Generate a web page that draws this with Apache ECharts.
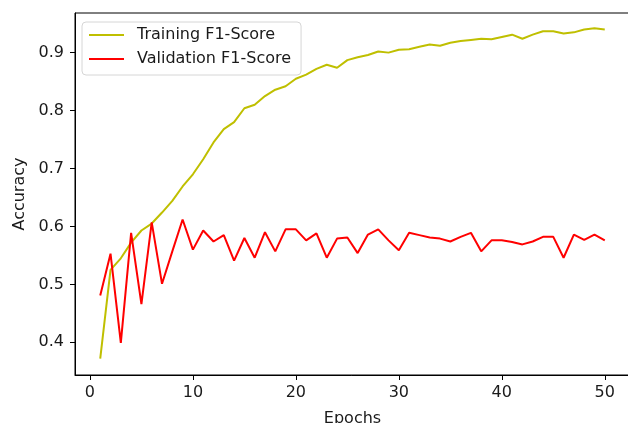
<!DOCTYPE html>
<html>
<head>
<meta charset="utf-8">
<script src="https://cdn.jsdelivr.net/npm/echarts@6/dist/echarts.min.js"></script>
<style>
html,body{margin:0;padding:0;background:#fff;}
#chart{width:628px;height:423px;}
</style>
</head>
<body>
<div id="chart"></div>
<script>
// epochs and f1 values
var epochs = [1,2,3,4,5,6,7,8,9,10,11,12,13,14,15,16,17,18,19,20,21,22,23,24,25,
              26,27,28,29,30,31,32,33,34,35,36,37,38,39,40,41,42,43,44,45,46,47,48,49,50];
var trainF1 = [0.372,0.525,0.545,0.572,0.593,0.605,0.624,0.644,0.669,0.690,
               0.716,0.745,0.768,0.780,0.804,0.810,0.825,0.836,0.842,0.855,
               0.862,0.872,0.879,0.874,0.887,0.892,0.896,0.902,0.900,0.905,
               0.906,0.910,0.914,0.912,0.917,0.920,0.922,0.924,0.923,0.927,
               0.931,0.924,0.931,0.937,0.937,0.933,0.935,0.940,0.942,0.940];
var valF1 = [0.481,0.553,0.399,0.589,0.466,0.607,0.501,0.557,0.612,0.560,
             0.593,0.574,0.585,0.541,0.580,0.546,0.590,0.557,0.595,0.595,
             0.576,0.588,0.546,0.579,0.581,0.554,0.586,0.595,0.576,0.559,
             0.589,0.585,0.581,0.579,0.574,0.582,0.589,0.557,0.576,0.576,
             0.573,0.569,0.574,0.582,0.582,0.546,0.586,0.577,0.586,0.576];
var xTicks = [0,10,20,30,40,50];
var yTicks = [0.4,0.5,0.6,0.7,0.8,0.9];

function pairs(vals){
  var out = [];
  for (var i = 0; i < epochs.length; i++) out.push([epochs[i], vals[i]]);
  return out;
}

var font = 'DejaVu Sans';
var myChart = echarts.init(document.getElementById('chart'));

option = {
  animation: false,
  backgroundColor: '#fff',
  textStyle: {fontFamily: font},
  grid: {
    left: 75, top: 13, width: 555, height: 362,
    containLabel: false, outerBoundsMode: 'none',
    show: true, borderColor: '#000', borderWidth: 1, backgroundColor: 'transparent'
  },
  legend: {
    left: 82, top: 22,
    orient: 'vertical',
    itemWidth: 35, itemHeight: 14, itemGap: 6,
    padding: [4, 10, 7, 6],
    borderColor: '#d6d6d6', borderWidth: 1, borderRadius: 4,
    backgroundColor: 'rgba(255,255,255,0.8)',
    itemStyle: {opacity: 0},
    textStyle: {fontFamily: font, fontSize: 16, color: '#1a1a1a', lineHeight: 18, padding: [0, 0, 0, 8]},
    data: ['Training F1-Score', 'Validation F1-Score']
  },
  xAxis: {
    type: 'value',
    min: -1.45, max: 52.45,
    name: 'Epochs', nameLocation: 'middle', nameGap: 36,
    nameTextStyle: {fontFamily: font, fontSize: 16, color: '#1a1a1a'},
    axisLine: {show: true, onZero: false, lineStyle: {color: '#000', width: 1}},
    axisTick: {show: true, inside: false, length: 5, customValues: xTicks, lineStyle: {color: '#000', width: 1}},
    axisLabel: {customValues: xTicks, margin: 10, fontFamily: font, fontSize: 16, color: '#1a1a1a'},
    splitLine: {show: false}
  },
  yAxis: {
    type: 'value',
    min: 0.3436, max: 0.9684,
    name: 'Accuracy', nameLocation: 'middle', nameGap: 47, nameRotate: 90,
    nameTextStyle: {fontFamily: font, fontSize: 16, color: '#1a1a1a'},
    axisLine: {show: true, onZero: false, lineStyle: {color: '#000', width: 1}},
    axisTick: {show: true, inside: false, length: 5, customValues: yTicks, lineStyle: {color: '#000', width: 1}},
    axisLabel: {customValues: yTicks, margin: 11, fontFamily: font, fontSize: 16, color: '#1a1a1a',
      formatter: function(v){ return v.toFixed(1); }},
    splitLine: {show: false}
  },
  series: [
    {
      name: 'Training F1-Score',
      type: 'line',
      data: pairs(trainF1),
      symbol: 'none',
      lineStyle: {color: '#bfbf00', width: 2},
      itemStyle: {color: '#bfbf00'}
    },
    {
      name: 'Validation F1-Score',
      type: 'line',
      data: pairs(valF1),
      symbol: 'none',
      lineStyle: {color: '#ff0000', width: 2},
      itemStyle: {color: '#ff0000'}
    }
  ]
};

myChart.setOption(option);
</script>
</body>
</html>
